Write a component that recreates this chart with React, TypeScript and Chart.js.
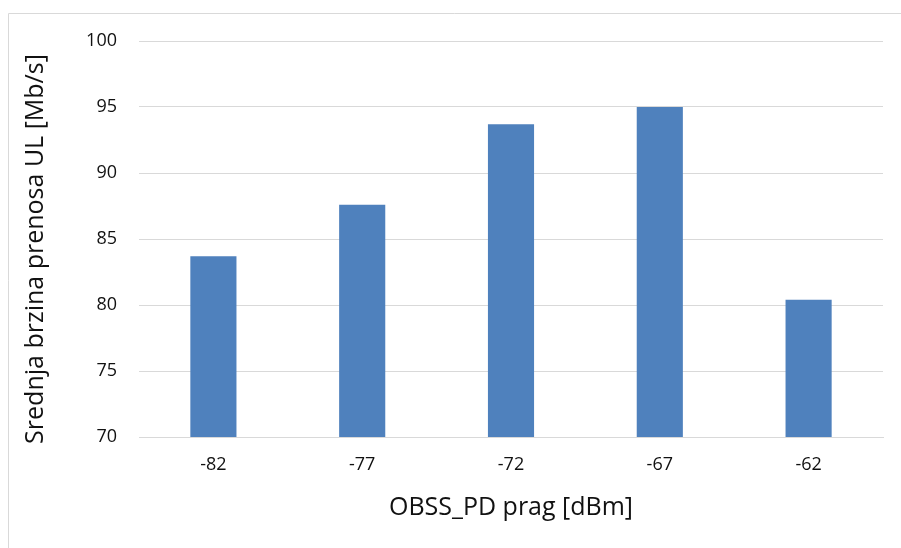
import React, { useEffect, useRef } from "react";
import { Chart, registerables } from "chart.js";

Chart.register(...registerables);

const categories = ["-82", "-77", "-72", "-67", "-62"];
const throughput = [83.7, 87.6, 93.7, 95.0, 80.4];
const yTicks = [70, 75, 80, 85, 90, 95, 100];
const xTitle = "OBSS_PD prag [dBm]";
const yTitle = "Srednja brzina prenosa UL [Mb/s]";

const FONT = "'Open Sans', 'DejaVu Sans', sans-serif";
const GRID = "#d9d9d9";

// Outer chart frame and axis titles
const decorations = {
  id: "decorations",
  beforeDraw(chart: any) {
    const { ctx, width, height } = chart;
    ctx.save();
    ctx.strokeStyle = GRID;
    ctx.lineWidth = 1;
    ctx.beginPath();
    ctx.moveTo(8.5, height);
    ctx.lineTo(8.5, 13.5);
    ctx.lineTo(width, 13.5);
    ctx.stroke();
    ctx.restore();
  },
  afterDraw(chart: any) {
    const { ctx, chartArea } = chart;
    ctx.save();
    ctx.fillStyle = "#111";
    ctx.font = `25px ${FONT}`;
    ctx.textAlign = "center";
    ctx.textBaseline = "middle";
    ctx.fillText(xTitle, (chartArea.left + chartArea.right) / 2, chartArea.bottom + 71);
    ctx.translate(36, (chartArea.top + chartArea.bottom) / 2 + 10);
    ctx.rotate(-Math.PI / 2);
    ctx.fillText(yTitle, 0, 0);
    ctx.restore();
  },
};

export default function App() {
  const ref = useRef<HTMLCanvasElement | null>(null);

  useEffect(() => {
    if (!ref.current) return;
    const chart = new Chart(ref.current, {
      type: "bar",
      data: {
        labels: categories,
        datasets: [
          {
            data: throughput,
            backgroundColor: "#4f81bd",
            borderWidth: 0,
            barPercentage: 0.31,
            categoryPercentage: 1,
          },
        ],
      },
      plugins: [decorations],
      options: {
        animation: false,
        responsive: false,
        maintainAspectRatio: false,
        layout: { padding: { top: 41, right: 18, bottom: 0, left: 0 } },
        plugins: {
          legend: { display: false },
          tooltip: { enabled: false },
          title: { display: false },
        },
        scales: {
          x: {
            grid: { display: false, drawTicks: false },
            border: { display: true, color: GRID, width: 1 },
            ticks: {
              color: "#111",
              font: { family: FONT, size: 18 },
              padding: 17,
              maxRotation: 0,
            },
            afterFit(scale: any) {
              scale.height = 111;
            },
          },
          y: {
            min: 70,
            max: 100,
            grid: { color: GRID, lineWidth: 1, drawTicks: false },
            border: { display: false },
            afterBuildTicks(scale: any) {
              scale.ticks = yTicks.map((v) => ({ value: v }));
            },
            ticks: {
              color: "#111",
              font: { family: FONT, size: 18 },
              padding: 22,
            },
            afterFit(scale: any) {
              scale.width = 139;
            },
          },
        },
      },
    });
    return () => chart.destroy();
  }, []);

  return (
    <div style={{ position: "fixed", left: 0, top: 0, width: 901, height: 548, background: "#fff" }}>
      <canvas ref={ref} width={901} height={548} style={{ display: "block" }} />
    </div>
  );
}
